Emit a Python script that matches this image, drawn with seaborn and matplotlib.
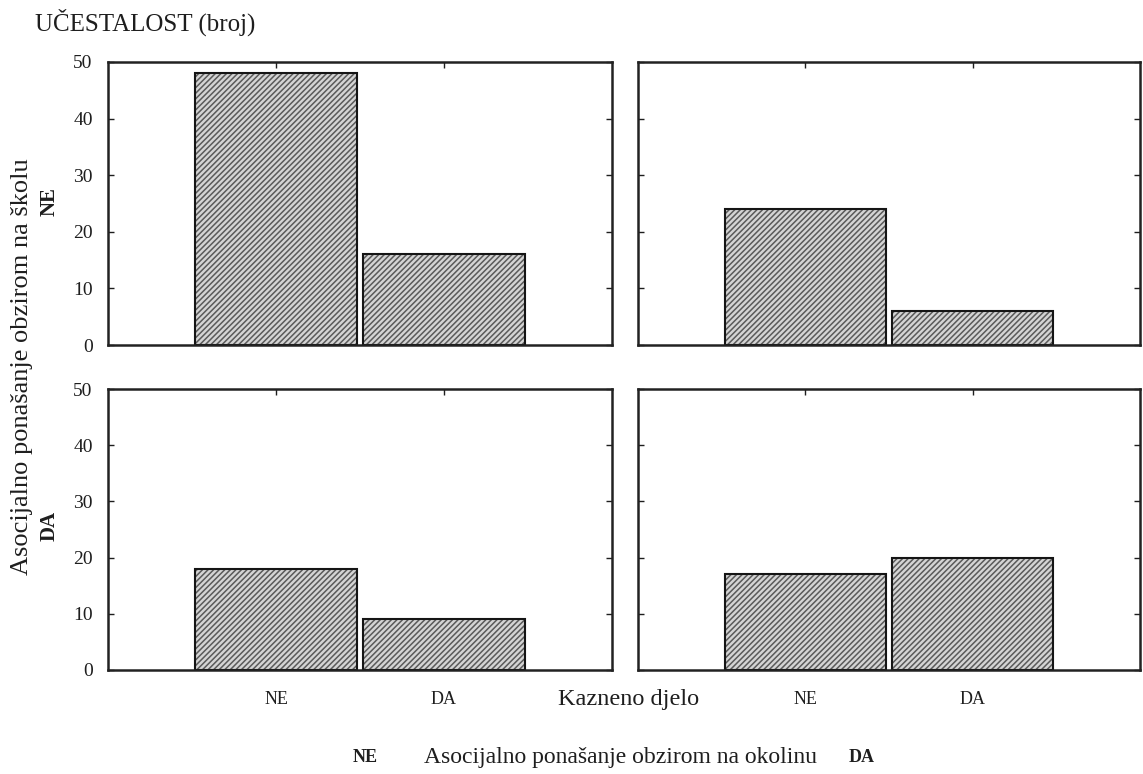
import matplotlib
matplotlib.use("Agg")
import matplotlib.pyplot as plt
import pandas as pd
import seaborn as sns

# categories
skola = ['NE', 'DA']        # rows: Asocijalno ponašanje obzirom na školu
okolina = ['NE', 'DA']      # cols: Asocijalno ponašanje obzirom na okolinu
kazneno = ['NE', 'DA']      # x: Kazneno djelo

# counts [skola][okolina] -> per kazneno
counts_ne_ne = [48, 16]
counts_ne_da = [24, 6]
counts_da_ne = [18, 9]
counts_da_da = [17, 20]

rows = []
for s, o, vals in [('NE', 'NE', counts_ne_ne), ('NE', 'DA', counts_ne_da),
                   ('DA', 'NE', counts_da_ne), ('DA', 'DA', counts_da_da)]:
    for k, v in zip(kazneno, vals):
        rows.append({'skola': s, 'okolina': o, 'kazneno': k, 'broj': v})
df = pd.DataFrame(rows)

sns.set_style("white")
plt.rcParams['font.family'] = ['Liberation Serif', 'DejaVu Serif']
plt.rcParams['hatch.linewidth'] = 1.1

fig = plt.figure(figsize=(11.43, 7.74), dpi=100)

W = 1143
H = 774
lefts = [108 / W, 638 / W]
widths = [504 / W, 502 / W]
bottoms = [1 - 345 / H, 1 - 670 / H]
heights = [283 / H, 281 / H]
txt = '#1e1e1e'

for i, s in enumerate(skola):
    for j, o in enumerate(okolina):
        ax = fig.add_axes([lefts[j], bottoms[i], widths[j], heights[i]])
        sub = df[(df['skola'] == s) & (df['okolina'] == o)]
        sns.barplot(data=sub, x='kazneno', y='broj', order=kazneno, ax=ax,
                    color='#d4d4d4', width=0.965, hatch='//////',
                    edgecolor='#5a5a5a', linewidth=0, errorbar=None)
        sns.barplot(data=sub, x='kazneno', y='broj', order=kazneno, ax=ax,
                    fill=False, width=0.965, edgecolor='#151515',
                    linewidth=1.5, errorbar=None)
        ax.set_xlim(-1, 2)
        ax.set_ylim(0, 50)
        ax.set_yticks([0, 10, 20, 30, 40, 50])
        ax.tick_params(direction='in', length=4, width=1, left=True, bottom=True,
                       top=True, right=True, colors=txt)
        ax.tick_params(axis='y', labelsize=14, pad=11)
        ax.set_xlabel('')
        ax.set_ylabel('')
        for sp in ax.spines.values():
            sp.set_linewidth(1.8)
            sp.set_color('#222222')
        if j == 1:
            ax.set_yticklabels([])
        if i == 0:
            ax.set_xticklabels([])
        else:
            ax.tick_params(axis='x', labelsize=13, pad=15)

fig.text(50 / W, 1 - 202 / H, 'NE', fontsize=15, fontweight='bold',
         rotation=90, ha='center', va='center', color=txt)
fig.text(50 / W, 1 - 526 / H, 'DA', fontsize=15, fontweight='bold',
         rotation=90, ha='center', va='center', color=txt)
fig.text(35 / W, 1 - 22 / H, 'UČESTALOST (broj)', fontsize=18,
         ha='left', va='center', color=txt)
fig.text(22 / W, 1 - 367 / H, 'Asocijalno ponašanje obzirom na školu',
         fontsize=19, rotation=90, ha='center', va='center', color=txt)
fig.text(629 / W, 1 - 700 / H, 'Kazneno djelo', fontsize=17.5,
         ha='center', va='center', color=txt)
fig.text(365 / W, 1 - 757 / H, 'NE', fontsize=13, fontweight='bold',
         ha='center', va='center', color=txt)
fig.text(620 / W, 1 - 757 / H, 'Asocijalno ponašanje obzirom na okolinu',
         fontsize=17, ha='center', va='center', color=txt)
fig.text(862 / W, 1 - 757 / H, 'DA', fontsize=13, fontweight='bold',
         ha='center', va='center', color=txt)

fig.savefig('out.png', dpi=100)
